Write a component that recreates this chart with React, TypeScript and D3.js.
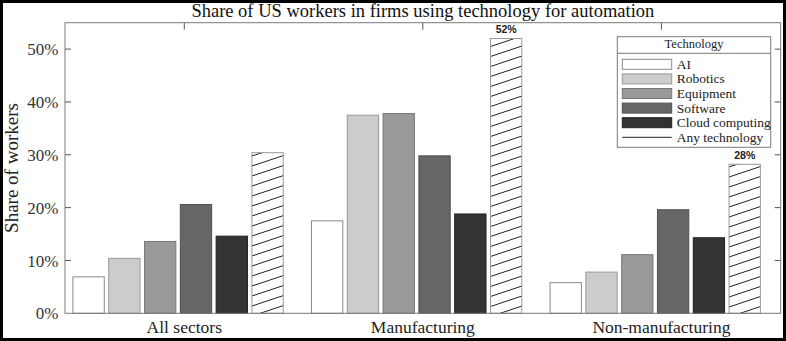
import React from "react";
import * as d3 from "d3";

const categories = ["All sectors", "Manufacturing", "Non-manufacturing"];
const seriesNames = ["AI", "Robotics", "Equipment", "Software", "Cloud computing", "Any technology"];
const aiValues = [6.9, 17.5, 5.8];
const roboticsValues = [10.4, 37.5, 7.8];
const equipmentValues = [13.6, 37.8, 11.1];
const softwareValues = [20.6, 29.8, 19.6];
const cloudValues = [14.6, 18.8, 14.3];
const anyValues = [30.4, 52.0, 28.2];
const anyLabels = ["", "52%", "28%"];
const yTicks = [0, 10, 20, 30, 40, 50];

const seriesValues = [aiValues, roboticsValues, equipmentValues, softwareValues, cloudValues, anyValues];
const fills = ["#ffffff", "#cccccc", "#999999", "#666666", "#333333", "url(#hatch)"];
const strokes = ["#8a8a8a", "#999999", "#777777", "#505050", "#222222", "#999999"];

const W = 786;
const H = 341;
const left = 65;
const right = 780.7;
const top = 22.7;
const bottom = 313.3;
const serif = "'Liberation Serif', 'Times New Roman', serif";

export default function App() {
  const x = d3.scaleBand<string>().domain(categories).range([left, right]).padding(0);
  const y = d3.scaleLinear().domain([0, 55]).range([bottom, top]);
  const inner = d3
    .scaleBand<string>()
    .domain(seriesNames)
    .range([-113.6, 101.2])
    .paddingInner(0.125)
    .paddingOuter(0.0625);
  const cx = (c: string) => (x(c) as number) + x.bandwidth() / 2;
  const axisColor = "#7a7a7a";

  const legendX = 617.3;
  const legendY = 36.7;
  const legendW = 153.4;
  const legendH = 110.6;
  const rowY0 = 64.3;
  const rowStep = 14.6;

  return (
    <div style={{ position: "absolute", left: 0, top: 0 }}>
      <svg width={W} height={H} style={{ display: "block", background: "#fff" }}>
        <defs>
          <pattern id="hatch" patternUnits="userSpaceOnUse" width={30} height={10}>
            <rect width={30} height={10} fill="#fff" />
            <line x1={-30} y1={20} x2={60} y2={-10} stroke="#222" strokeWidth={1} />
            <line x1={-30} y1={10} x2={60} y2={-20} stroke="#222" strokeWidth={1} />
            <line x1={-30} y1={30} x2={60} y2={0} stroke="#222" strokeWidth={1} />
          </pattern>
        </defs>

        {/* title */}
        <text x={(left + right) / 2} y={17} textAnchor="middle" fontFamily={serif} fontSize={18.5} fill="#111">
          Share of US workers in firms using technology for automation
        </text>

        {/* top ticks */}
        {categories.map((c) => (
          <line key={"tt" + c} x1={cx(c)} x2={cx(c)} y1={top} y2={top + 7} stroke="#555" />
        ))}
        {/* bottom ticks */}
        {categories.map((c) => (
          <line key={"bt" + c} x1={cx(c)} x2={cx(c)} y1={bottom} y2={bottom - 7} stroke="#555" />
        ))}
        {/* y ticks */}
        {yTicks.map((t) => (
          <g key={"yt" + t}>
            {t > 0 && <line x1={left} x2={left + 6} y1={y(t)} y2={y(t)} stroke="#555" />}
            {t > 0 && <line x1={right} x2={right - 6} y1={y(t)} y2={y(t)} stroke="#555" />}
            <text x={58.5} y={y(t)} dy="0.36em" textAnchor="end" fontFamily={serif} fontSize={17} fill="#333">
              {t + "%"}
            </text>
          </g>
        ))}

        {/* bars */}
        {categories.map((c, ci) => (
          <g key={"g" + c}>
            {seriesNames.map((s, si) => {
              const v = seriesValues[si][ci];
              const bx = cx(c) + (inner(s) as number);
              return (
                <rect
                  key={s}
                  x={bx}
                  y={y(v)}
                  width={inner.bandwidth()}
                  height={bottom - y(v)}
                  fill={fills[si]}
                  stroke={strokes[si]}
                  strokeWidth={1}
                />
              );
            })}
            {anyLabels[ci] && (
              <text
                x={cx(c) + (inner("Any technology") as number) + inner.bandwidth() / 2}
                y={y(anyValues[ci]) - 5.5}
                textAnchor="middle"
                fontFamily="'Liberation Sans', Arial, sans-serif"
                fontWeight="bold"
                fontSize={10.5}
                fill="#222"
              >
                {anyLabels[ci]}
              </text>
            )}
          </g>
        ))}

        {/* axes frame */}
        <rect x={left} y={top} width={right - left} height={bottom - top} fill="none" stroke={axisColor} strokeWidth={1} />

        {/* x labels */}
        {categories.map((c) => (
          <text key={"xl" + c} x={cx(c)} y={333} textAnchor="middle" fontFamily={serif} fontSize={17.5} fill="#222">
            {c}
          </text>
        ))}

        {/* y label */}
        <text
          transform={`translate(17.5,${(top + bottom) / 2}) rotate(-90)`}
          textAnchor="middle"
          fontFamily={serif}
          fontSize={19}
          fill="#222"
        >
          Share of workers
        </text>

        {/* legend */}
        <rect x={legendX} y={legendY} width={legendW} height={legendH} fill="#fff" stroke={axisColor} strokeWidth={1} />
        <line x1={legendX} x2={legendX + legendW} y1={53.3} y2={53.3} stroke={axisColor} />
        <text x={legendX + legendW / 2} y={48} textAnchor="middle" fontFamily={serif} fontSize={12.5} fill="#222">
          Technology
        </text>
        {seriesNames.map((s, si) => {
          const ry = rowY0 + si * rowStep;
          return (
            <g key={"lg" + s}>
              {si < 5 ? (
                <rect x={622.3} y={ry - 5} width={49.4} height={10} fill={fills[si]} stroke={strokes[si]} />
              ) : (
                <line x1={622.3} x2={671.7} y1={ry} y2={ry} stroke="#222" strokeWidth={1} />
              )}
              <text x={676.7} y={ry} dy="0.33em" fontFamily={serif} fontSize={13.5} fill="#222">
                {s}
              </text>
            </g>
          );
        })}

        {/* outer frame */}
        <rect x={1.5} y={1.5} width={W - 3} height={H - 3} fill="none" stroke="#000" strokeWidth={3} />
      </svg>
    </div>
  );
}
